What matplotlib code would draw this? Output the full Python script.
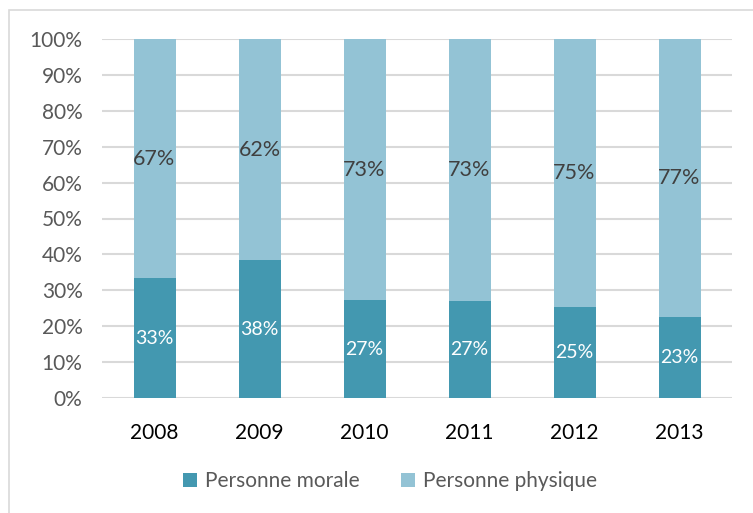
import matplotlib.pyplot as plt
from matplotlib.patches import Rectangle
from matplotlib.ticker import PercentFormatter

years = ['2008', '2009', '2010', '2011', '2012', '2013']
morale = [33.4, 38.4, 27.2, 26.9, 25.3, 22.6]
physique = [100 - v for v in morale]

dark = '#4398b0'
light = '#93c3d5'

plt.rcParams['font.family'] = ['Lato', 'DejaVu Sans']

fig = plt.figure(figsize=(7.53, 5.13), dpi=100)
W, H = 753, 513
ax = fig.add_axes([102 / W, 1 - 398 / H, 630 / W, 359 / H])

# chart area border
fig.patches.append(Rectangle((9 / W, -0.01), 1, 1 - 10 / H + 0.01, transform=fig.transFigure,
                             fill=False, edgecolor='#d9d9d9', linewidth=1.2))

x = range(len(years))
b1 = ax.bar(x, morale, width=0.4, color=dark, label='Personne morale', zorder=3)
b2 = ax.bar(x, physique, width=0.4, bottom=morale, color=light, label='Personne physique', zorder=3)

for i in x:
    ax.text(i, morale[i] / 2, f'{round(morale[i])}%', ha='center', va='center',
            color='white', fontsize=14, zorder=4)
    ax.text(i, morale[i] + physique[i] / 2, f'{round(physique[i])}%', ha='center', va='center',
            color='#404040', fontsize=15.5, zorder=4)

ax.set_xlim(-0.5, 5.5)
ax.set_ylim(0, 100)
ax.set_yticks(range(0, 101, 10))
ax.yaxis.set_major_formatter(PercentFormatter(decimals=0))
ax.set_xticks(list(x))
ax.set_xticklabels(years)
ax.tick_params(axis='y', length=0, labelsize=15, labelcolor='#595959', pad=14)
ax.tick_params(axis='x', length=0, labelsize=15, labelcolor='black', pad=18)
ax.grid(axis='y', color='#d9d9d9', linewidth=1.5, zorder=0)
for s in ax.spines.values():
    s.set_visible(False)

leg = fig.legend(handles=[b1, b2], loc='center', bbox_to_anchor=(390 / W, 1 - 481 / H), ncol=2,
                 frameon=False, fontsize=15, handlelength=0.65, handleheight=0.65,
                 handletextpad=0.4, columnspacing=2.0)
for t in leg.get_texts():
    t.set_color('#595959')

fig.savefig('out.png', dpi=100)
